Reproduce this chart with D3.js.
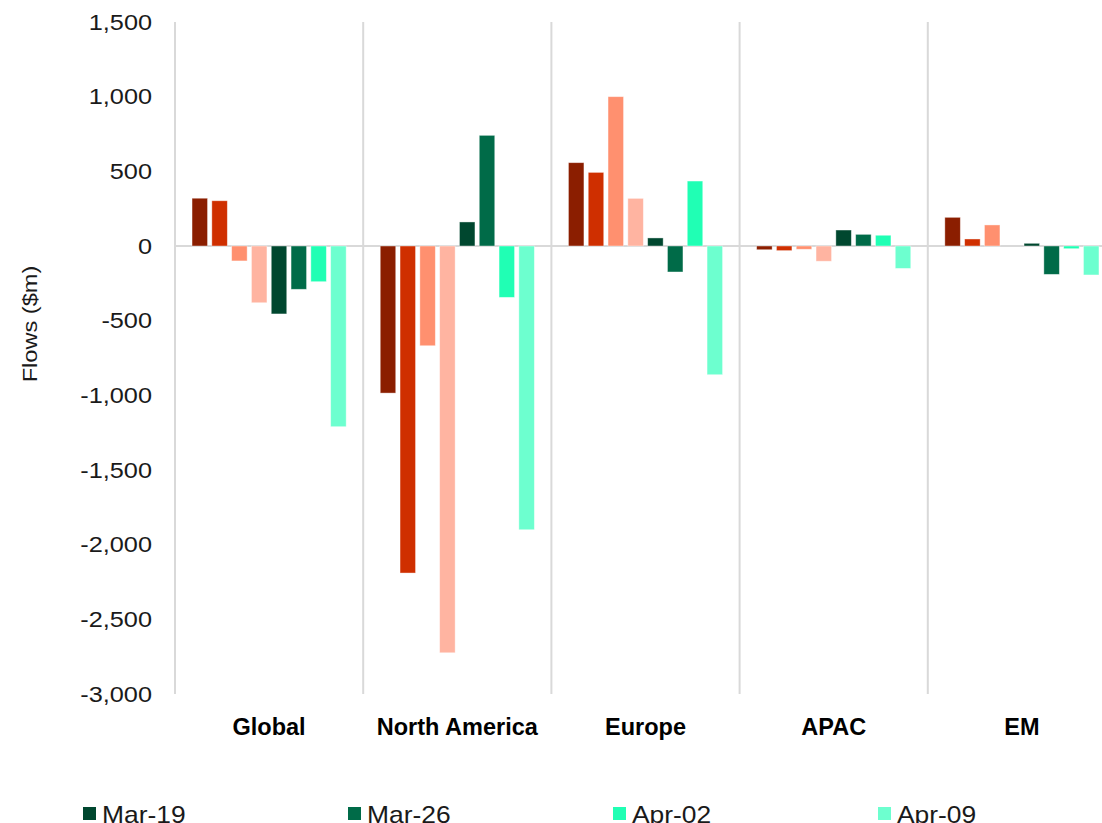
<!DOCTYPE html>
<html>
<head>
<meta charset="utf-8">
<script src="https://cdn.jsdelivr.net/npm/d3@7"></script>
<style>
  html, body { margin: 0; padding: 0; background: #fff; }
  svg { display: block; }
</style>
</head>
<body>
<svg id="chart" width="1102" height="823"></svg>
<script>
// regions on the x axis
const regions = ["Global", "North America", "Europe", "APAC", "EM"];

// weekly series (first four are the red ones, legend row for them is below the frame)
const seriesNames = ["Feb-19", "Feb-26", "Mar-05", "Mar-12", "Mar-19", "Mar-26", "Apr-02", "Apr-09"];
const seriesColors = ["#8b1e00", "#cf2f00", "#ff906f", "#ffb4a1", "#00472f", "#006b48", "#20ffb4", "#6dffcf"];

// flows ($m), one array per series, in region order
const feb19 = [320, -985, 558, -25, 192];
const feb26 = [303, -2190, 493, -31, 47];
const mar05 = [-100, -668, 1000, -22, 141];
const mar12 = [-380, -2724, 319, -102, 0];
const mar19 = [-455, 161, 54, 107, 18];
const mar26 = [-290, 741, -174, 78, -190];
const apr02 = [-239, -344, 435, 72, -18];
const apr09 = [-1210, -1900, -862, -150, -194];
const seriesValues = [feb19, feb26, mar05, mar12, mar19, mar26, apr02, apr09];

const yTicks = [1500, 1000, 500, 0, -500, -1000, -1500, -2000, -2500, -3000];
const legendShown = ["Mar-19", "Mar-26", "Apr-02", "Apr-09"];

const svg = d3.select("#chart");

const plotLeft = 175, plotTop = 22, plotBottom = 694;
const groupW = 188.2;
const fmt = d3.format(",");

const x0 = d3.scaleBand()
    .domain(regions)
    .range([plotLeft, plotLeft + groupW * regions.length])
    .padding(0);

const x1 = d3.scaleBand()
    .domain(seriesNames)
    .range([0, x0.bandwidth()])
    .paddingInner(0.217)
    .paddingOuter(0.86);

const y = d3.scaleLinear()
    .domain([-3000, 1500])
    .range([plotBottom, plotTop]);

// vertical separators between regions
svg.append("g")
    .selectAll("line")
    .data(regions)
    .enter()
    .append("line")
    .attr("x1", d => x0(d))
    .attr("x2", d => x0(d))
    .attr("y1", y(1500))
    .attr("y2", y(-3000))
    .attr("stroke", "#d9d9d9")
    .attr("stroke-width", 2);

// zero line
svg.append("line")
    .attr("x1", plotLeft)
    .attr("x2", 1102)
    .attr("y1", y(0))
    .attr("y2", y(0))
    .attr("stroke", "#d9d9d9")
    .attr("stroke-width", 2);

// y axis labels (no axis line); plain hyphen for negatives like the original
const yAxis = svg.append("g")
    .attr("transform", `translate(${plotLeft},0)`)
    .call(d3.axisLeft(y).tickValues(yTicks).tickFormat(d => fmt(d).replace("\u2212", "-")).tickSize(0));
yAxis.select(".domain").remove();
yAxis.selectAll("text")
    .attr("x", null)
    .attr("transform", "translate(-23,0) scale(1.15,1)")
    .attr("font-family", "Liberation Sans, Arial, sans-serif")
    .attr("font-size", 22)
    .attr("fill", "#1a1a1a");

// bars
const flat = [];
seriesNames.forEach((s, i) => {
    regions.forEach((r, j) => {
        flat.push({ series: s, region: r, value: seriesValues[i][j], color: seriesColors[i] });
    });
});

svg.append("g")
    .selectAll(".bar")
    .data(flat)
    .enter()
    .append("rect")
    .attr("class", "bar")
    .attr("x", d => x0(d.region) + x1(d.series))
    .attr("y", d => y(Math.max(0, d.value)))
    .attr("width", x1.bandwidth())
    .attr("height", d => Math.abs(y(d.value) - y(0)))
    .attr("fill", d => d.color)
    .attr("stroke", "#fff")
    .attr("stroke-opacity", 0.5)
    .attr("stroke-width", 0.8);

// region labels
svg.append("g")
    .selectAll("text")
    .data(regions)
    .enter()
    .append("text")
    .attr("x", d => x0(d) + x0.bandwidth() / 2)
    .attr("y", 735)
    .attr("text-anchor", "middle")
    .attr("font-family", "Liberation Sans, Arial, sans-serif")
    .attr("font-weight", "bold")
    .attr("font-size", 23.5)
    .attr("fill", "#000")
    .text(d => d);

// y axis title
svg.append("text")
    .attr("transform", "translate(37,324) rotate(-90) scale(1.18,1)")
    .attr("text-anchor", "middle")
    .attr("font-family", "Liberation Sans, Arial, sans-serif")
    .attr("font-size", 20)
    .attr("fill", "#1a1a1a")
    .text("Flows ($m)");

// legend (only the green row is in frame, bottom clipped like the original)
const legend = svg.append("g")
    .selectAll("g")
    .data(legendShown)
    .enter()
    .append("g")
    .attr("transform", (d, i) => `translate(${83 + i * 265},807)`);

legend.append("rect")
    .attr("width", 13)
    .attr("height", 13)
    .attr("fill", d => seriesColors[seriesNames.indexOf(d)]);

legend.append("text")
    .attr("transform", "translate(19,16) scale(1.1,1)")
    .attr("font-family", "Liberation Sans, Arial, sans-serif")
    .attr("font-size", 24)
    .attr("fill", "#1a1a1a")
    .text(d => d);
</script>
</body>
</html>
